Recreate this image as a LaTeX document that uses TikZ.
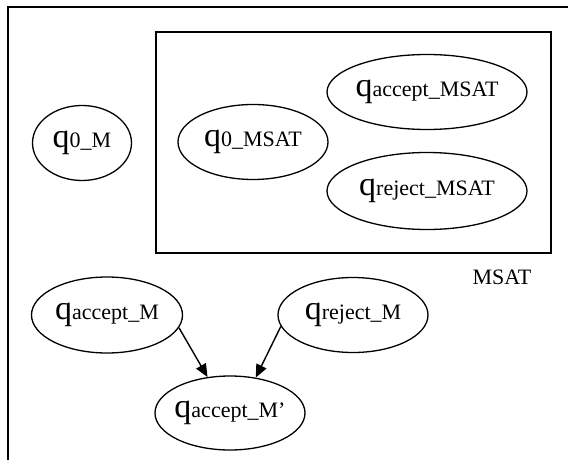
\documentclass[tikz,border=0pt]{standalone}
\usepackage{fontspec}
\setmainfont{Liberation Serif}
\usepackage{tikz}
\usetikzlibrary{arrows.meta}
\usetikzlibrary{shapes.geometric}

\newcommand{\statelab}[1]{{\fontsize{34}{34}\selectfont q}{\fontsize{22}{22}\selectfont #1}}

\begin{document}
\begin{tikzpicture}[x=1pt, y=-1pt, >={Triangle[length=13pt,width=11pt]},
  state/.style={ellipse, draw, line width=1.3pt, inner xsep=-10pt, inner ysep=0pt, minimum width=150pt, minimum height=75pt}]
\useasboundingbox (0,0) rectangle (568,460);
\draw [line width=1.2pt] (8,460) -- (8,7) -- (568,7);
\begin {scope} [line width=1.2pt]
  \draw (156,32) rectangle (551,253);
  \node (msat) at (502,277) {\fontsize{22}{22}\selectfont MSAT};
\end {scope}
\node [state, minimum width=99pt] (q0M) at (82,143) {\statelab{0\_M}};
\node [state] (q0MSAT) at (253,142) {\statelab{0\_MSAT}};
\node [state, minimum width=200pt] (qaccMSAT) at (427,92) {\statelab{accept\_MSAT}};
\node [state, minimum width=200pt, minimum height=77pt] (qrejMSAT) at (427,191) {\statelab{reject\_MSAT}};
\node [state, minimum width=151pt, minimum height=76pt] (qaccM) at (107,315) {\statelab{accept\_M}};
\node [state] (qrejM) at (353,315) {\statelab{reject\_M}};
\node [state, minimum height=74pt] (qaccMp) at (230,413) {\statelab{accept\_M’}};
\draw [->, line width=1.4pt] (qaccM.-10) -- (qaccMp.122);
\draw [->, line width=1.4pt] (qrejM.189) -- (qaccMp.54);
\end{tikzpicture}
\end{document}
